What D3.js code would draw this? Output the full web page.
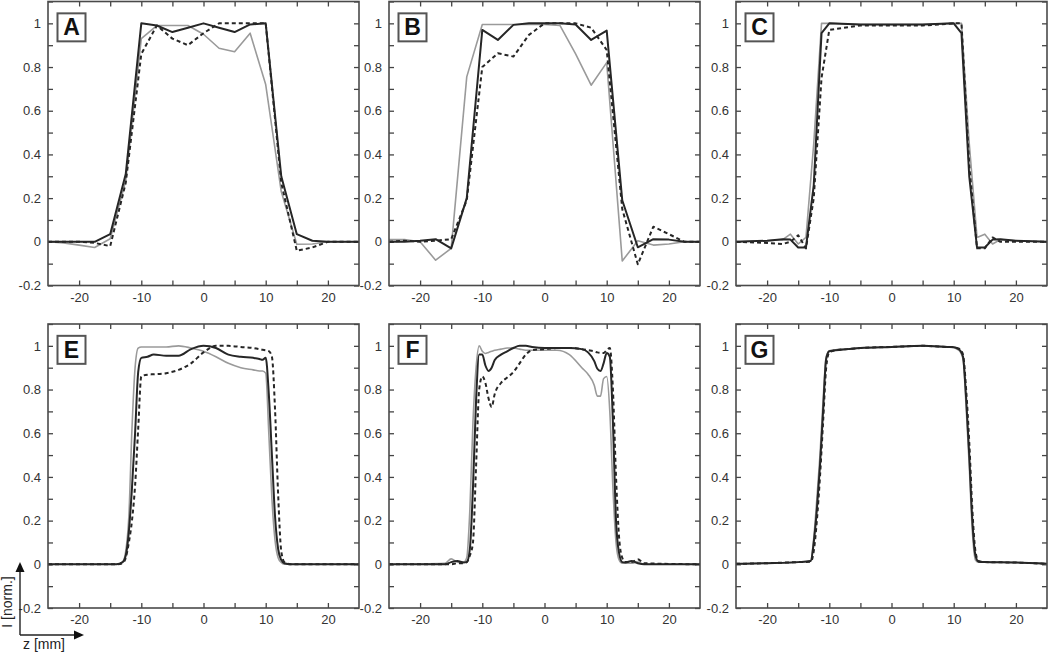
<!DOCTYPE html>
<html>
<head>
<meta charset="utf-8">
<script src="https://cdn.jsdelivr.net/npm/d3@7"></script>
<style>
  body { margin: 0; background: #fff; }
  svg { font-family: 'Liberation Sans', Arial, sans-serif; }
</style>
</head>
<body>
<div id="chart"></div>
<script>
// z positions (mm) and normalised intensity
let zA = [-25, -22.5, -20, -17.5, -15, -12.5, -10, -7.5, -5, -2.5, 0, 2.5, 5, 7.5, 10, 12.5, 15, 17.5, 20, 22.5, 25]
let blackA = [0, 0, 0, 0, 0.035, 0.31, 1.0, 0.99, 0.96, 0.98, 1.0, 0.98, 0.96, 0.995, 1.0, 0.3, 0.035, 0.005, 0, 0, 0]
let grayA = [0, -0.005, -0.015, -0.026, 0.014, 0.28, 0.93, 0.99, 0.99, 0.99, 0.95, 0.886, 0.87, 0.955, 0.72, 0.23, -0.011, -0.01, 0, 0, 0]
let dashA = [0, 0, 0, -0.005, -0.02, 0.27, 0.86, 0.99, 0.93, 0.9, 0.955, 1.0, 1.0, 1.0, 1.0, 0.27, -0.041, -0.026, 0, 0, 0]

let zB = [-25, -22.5, -20, -17.5, -15, -12.5, -10, -7.5, -5, -2.5, 0, 2.5, 5, 7.5, 10, 12.5, 15, 17.5, 20, 22.5, 25]
let blackB = [0, 0, 0.005, 0.012, -0.03, 0.2, 0.97, 0.924, 0.993, 1.0, 1.0, 1.0, 0.995, 0.924, 0.967, 0.19, -0.025, 0.012, 0.01, 0, 0]
let grayB = [0.01, 0.01, 0, -0.084, -0.03, 0.755, 0.995, 0.995, 0.995, 0.995, 0.995, 0.99, 0.86, 0.717, 0.82, -0.088, 0.005, -0.015, -0.01, 0, 0]
let dashB = [0, 0.005, 0, 0.005, 0.012, 0.19, 0.8, 0.863, 0.848, 0.947, 1.0, 1.0, 1.0, 0.98, 0.878, 0.15, -0.103, 0.069, 0.035, 0, 0]

let zC = [-25, -20, -17.5, -16.25, -15, -13.75, -12.5, -11.25, -10, -5, 0, 5, 10, 11.25, 12.5, 13.75, 15, 16.25, 17.5, 20, 25]
let blackC = [0, 0.005, 0.012, 0.01, -0.026, -0.026, 0.26, 0.955, 1.0, 0.995, 0.995, 0.995, 1.0, 0.955, 0.3, -0.026, -0.026, 0.01, 0.012, 0.005, 0]
let grayC = [0, 0.005, 0.01, 0.035, -0.01, 0.02, 0.45, 1.0, 1.0, 0.995, 0.995, 0.995, 1.0, 1.0, 0.45, 0.02, 0.035, -0.01, 0.01, 0.005, 0]
let dashC = [0, -0.005, -0.01, 0, 0.03, -0.03, 0.2, 0.75, 0.97, 0.99, 0.99, 0.99, 1.0, 1.0, 0.35, -0.03, -0.03, 0.02, 0, 0, 0]

let zE = [-25, -14, -13, -12.5, -12, -11.5, -11, -10.5, -10, -9, -8, -6, -4, -2, 0, 2, 4, 6, 8, 9, 9.5, 10, 10.5, 11, 11.5, 12, 12.5, 13, 14, 25]
let blackE = [0, 0, 0.01, 0.04, 0.15, 0.35, 0.6, 0.88, 0.945, 0.95, 0.96, 0.955, 0.955, 0.985, 1.0, 0.99, 0.96, 0.95, 0.945, 0.94, 0.936, 0.945, 0.78, 0.5, 0.22, 0.07, 0.02, 0.005, 0, 0]
let grayE = [0, 0, 0.01, 0.06, 0.22, 0.62, 0.9, 0.99, 0.995, 0.995, 0.995, 0.995, 1.0, 0.99, 0.975, 0.95, 0.92, 0.9, 0.89, 0.885, 0.885, 0.875, 0.6, 0.3, 0.11, 0.03, 0.008, 0, 0, 0]
let dashE = [0, 0, 0.005, 0.03, 0.1, 0.2, 0.36, 0.62, 0.86, 0.868, 0.87, 0.875, 0.89, 0.92, 0.97, 1.0, 1.0, 0.995, 0.99, 0.985, 0.982, 0.98, 0.976, 0.95, 0.71, 0.32, 0.06, 0.01, 0, 0]

let zF = [-25, -16, -15, -14, -13, -12.5, -12, -11.5, -11, -10.5, -10, -9.5, -9, -8.5, -8, -7, -6, -5, -4, -3, -2, 0, 2, 4, 6, 7, 8, 8.5, 9, 9.5, 10, 10.5, 11, 11.5, 12, 12.5, 13, 14, 15, 16, 25]
let blackF = [0, 0, 0.01, 0.015, 0.008, 0.01, 0.07, 0.35, 0.75, 0.96, 0.96, 0.91, 0.885, 0.9, 0.935, 0.96, 0.975, 0.99, 1.0, 1.0, 0.995, 0.99, 0.99, 0.99, 0.985, 0.97, 0.93, 0.895, 0.885, 0.92, 0.967, 0.95, 0.65, 0.2, 0.05, 0.01, 0.008, 0.015, 0.005, 0, 0]
let grayF = [0, 0.005, 0.025, 0.01, 0.01, 0.03, 0.25, 0.65, 0.9, 1.0, 0.975, 0.965, 0.97, 0.975, 0.98, 0.985, 0.99, 0.99, 0.985, 0.98, 0.98, 0.98, 0.98, 0.96, 0.9, 0.87, 0.82, 0.77, 0.77, 0.85, 0.86, 0.7, 0.35, 0.1, 0.02, 0.005, 0.005, 0.005, 0.01, 0, 0]
let dashF = [0, 0, 0, 0.005, 0.005, 0.01, 0.04, 0.1, 0.45, 0.8, 0.86, 0.83, 0.76, 0.72, 0.78, 0.83, 0.855, 0.88, 0.92, 0.96, 0.98, 0.985, 0.99, 0.99, 0.985, 0.98, 0.975, 0.97, 0.968, 0.967, 0.98, 0.99, 0.8, 0.4, 0.12, 0.03, 0.01, 0.01, 0.023, 0.005, 0]

let zG = [-25, -20, -15, -13, -12.5, -12, -11.5, -11, -10.5, -10, -9, -7, -5, 0, 5, 9, 10, 10.5, 11, 11.5, 12, 12.5, 13, 13.5, 14, 15, 20, 25]
let blackG = [0.002, 0.005, 0.01, 0.015, 0.1, 0.25, 0.45, 0.7, 0.94, 0.975, 0.98, 0.985, 0.99, 0.995, 1.0, 0.995, 0.994, 0.99, 0.98, 0.95, 0.76, 0.5, 0.2, 0.04, 0.012, 0.01, 0.008, 0.002]
let grayG = [0.002, 0.005, 0.01, 0.015, 0.12, 0.3, 0.5, 0.75, 0.95, 0.978, 0.982, 0.986, 0.99, 0.995, 1.0, 0.995, 0.993, 0.985, 0.975, 0.94, 0.72, 0.45, 0.15, 0.02, 0.01, 0.01, 0.008, 0.002]
let dashG = [0.002, 0.005, 0.01, 0.012, 0.06, 0.2, 0.4, 0.65, 0.9, 0.97, 0.98, 0.985, 0.99, 0.995, 1.0, 0.995, 0.994, 0.99, 0.985, 0.96, 0.8, 0.56, 0.25, 0.06, 0.015, 0.01, 0.008, 0.002]

let panelLabels = ['A', 'B', 'C', 'E', 'F', 'G']
let xTicks = [-20, -15, -10, -5, 0, 5, 10, 15, 20]
let yTicks = [-2, -1, 0, 1, 2, 3, 4, 5, 6, 7, 8, 9, 10, 11].map(d => d / 10)

let panels = [
  { z: zA, black: blackA, gray: grayA, dash: dashA, smooth: false },
  { z: zB, black: blackB, gray: grayB, dash: dashB, smooth: false },
  { z: zC, black: blackC, gray: grayC, dash: dashC, smooth: false },
  { z: zE, black: blackE, gray: grayE, dash: dashE, smooth: true },
  { z: zF, black: blackF, gray: grayF, dash: dashF, smooth: true },
  { z: zG, black: blackG, gray: grayG, dash: dashG, smooth: true }
]

let width = 311
let height = 284
let lefts = [48, 389, 736]
let tops = [1.5, 324]

let svg = d3.select('#chart')
  .append('svg')
  .attr('width', 1050)
  .attr('height', 654)

var xScale = d3.scaleLinear().domain([-25, 25]).range([0, width])
var yScale = d3.scaleLinear().domain([-0.2, 1.1]).range([height, 0])

var fmtY = d => (Math.round(d * 10) % 2 === 0) ? String(+d.toFixed(1)) : ''
var fmtX = d => (d % 10 === 0) ? String(d) : ''

panels.forEach(function(p, i) {
  let g = svg.append('g')
    .attr('transform', 'translate(' + lefts[i % 3] + ',' + tops[Math.floor(i / 3)] + ')')

  g.append('clipPath')
    .attr('id', 'clip' + i)
    .append('rect')
    .attr('width', width)
    .attr('height', height)

  // ticks on all four sides, pointing inwards
  let axes = [
    { ax: d3.axisBottom(xScale).tickValues(xTicks).tickFormat(fmtX), t: 'translate(0,' + height + ')' },
    { ax: d3.axisTop(xScale).tickValues(xTicks).tickFormat(''), t: null },
    { ax: d3.axisLeft(yScale).tickValues(yTicks).tickFormat(fmtY), t: null },
    { ax: d3.axisRight(yScale).tickValues(yTicks).tickFormat(''), t: 'translate(' + width + ',0)' }
  ]
  axes.forEach(function(a) {
    let ag = g.append('g')
      .attr('class', 'axis')
      .call(a.ax.tickSizeInner(-5).tickSizeOuter(0).tickPadding(i < 3 ? 7 : 7))
    if (a.t) ag.attr('transform', a.t)
    ag.select('.domain').remove()
    ag.selectAll('line').attr('stroke', '#444').attr('stroke-width', 1.3)
    ag.selectAll('text')
      .attr('fill', '#333')
      .style('font-size', '13px')
      .style('font-family', "'Liberation Sans', Arial, sans-serif")
  })

  let plot = g.append('g').attr('clip-path', 'url(#clip' + i + ')')

  let line = d3.line()
    .x(d => xScale(d[0]))
    .y(d => yScale(d[1]))
    .curve(p.smooth ? d3.curveMonotoneX : d3.curveLinear)

  let series = [
    { v: p.gray, stroke: '#9a9a9a', w: 1.6, dash: null },
    { v: p.dash, stroke: '#262626', w: 2, dash: '4,3' },
    { v: p.black, stroke: '#262626', w: 2, dash: null }
  ]
  series.forEach(function(s) {
    plot.append('path')
      .datum(p.z.map((z, k) => [z, s.v[k]]))
      .attr('d', line)
      .attr('fill', 'none')
      .attr('stroke', s.stroke)
      .attr('stroke-width', s.w)
      .attr('stroke-dasharray', s.dash)
      .attr('stroke-linejoin', 'round')
  })

  // frame
  g.append('rect')
    .attr('width', width)
    .attr('height', height)
    .attr('fill', 'none')
    .attr('stroke', '#4a4a4a')
    .attr('stroke-width', 1.6)

  // panel letter box
  let by = yScale(1) - 10
  g.append('rect')
    .attr('x', 9.5)
    .attr('y', by)
    .attr('width', 28)
    .attr('height', 28)
    .attr('fill', '#fff')
    .attr('stroke', '#555')
    .attr('stroke-width', 2)
  g.append('text')
    .attr('x', 23.5)
    .attr('y', by + 22)
    .attr('text-anchor', 'middle')
    .style('font-size', '23px')
    .style('font-weight', 'bold')
    .attr('fill', '#111')
    .text(panelLabels[i])
})

// axis key in the lower left corner
let key = svg.append('g')
key.append('line')
  .attr('x1', 20).attr('y1', 635).attr('x2', 20).attr('y2', 568)
  .attr('stroke', '#222').attr('stroke-width', 1.4)
key.append('line')
  .attr('x1', 20).attr('y1', 635).attr('x2', 78).attr('y2', 635)
  .attr('stroke', '#222').attr('stroke-width', 1.4)
key.append('path')
  .attr('d', 'M20,562 L15.5,572 L24.5,572 Z')
  .attr('fill', '#111')
key.append('path')
  .attr('d', 'M84,635 L74,630.5 L74,639.5 Z')
  .attr('fill', '#111')
key.append('text')
  .attr('transform', 'translate(12,602) rotate(-90)')
  .attr('text-anchor', 'middle')
  .style('font-size', '14px')
  .attr('fill', '#222')
  .text('I [norm.]')
key.append('text')
  .attr('x', 23)
  .attr('y', 649)
  .style('font-size', '14px')
  .attr('fill', '#222')
  .text('z [mm]')
</script>
</body>
</html>
